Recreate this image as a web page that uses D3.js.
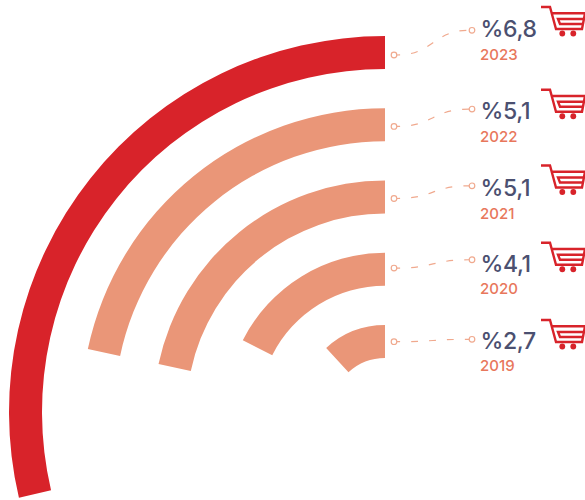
<!DOCTYPE html>
<html>
<head>
<meta charset="utf-8">
<script src="https://cdnjs.cloudflare.com/ajax/libs/d3/7.8.5/d3.min.js"></script>
<style>
  html, body { margin: 0; padding: 0; background: #fff; }
  svg { display: block; }
  text { font-family: "Inter", "Open Sans", sans-serif; }
</style>
</head>
<body>
<svg id="chart" width="585" height="500"></svg>
<script>
// Annual figures, innermost ring first
const years = ["2019", "2020", "2021", "2022", "2023"];
const values = [2.7, 4.1, 5.1, 5.1, 6.8];
const valueLabels = ["%2,7", "%4,1", "%5,1", "%5,1", "%6,8"];

// Annotation layout per row, measured from the top edge of the ring
const startOffset = [16.7, 15.3, 18, 18.2, 19];
const endOffset = [14.3, 7, 5.3, 0.8, -5.7];
const valueOffset = [24, 19.7, 15, 10.5, 0.7];
const yearOffset = [46.3, 41.2, 38.2, 34, 23.6];
const cartOffset = [-7, -12, -17, -20.5, -31];

const cx = 385, cy = 412;
const thickness = 33;
const highlightYear = "2023";
const red = "#d8232a", salmon = "#ea9678", ink = "#4b5070", yearInk = "#e8775c", leader = "#f0a98e";

const svg = d3.select("#chart");

// Sweep grows with the value, starting from twelve o'clock and running counter-clockwise
const toRad = Math.PI / 180;
const sweep = d3.scaleLinear().domain([0, 6.8]).range([-2.6 * toRad, -103.2 * toRad]);
const outerRadius = d3.scalePoint().domain(years).range([87, 376]);

const arc = d3.arc()
  .startAngle(0)
  .endAngle((d, i) => sweep(values[i]))
  .outerRadius(d => outerRadius(d))
  .innerRadius(d => outerRadius(d) - thickness);

svg.append("g")
  .attr("transform", `translate(${cx},${cy})`)
  .selectAll("path.ring")
  .data(years)
  .join("path")
  .attr("class", "ring")
  .attr("d", arc)
  .attr("fill", d => d === highlightYear ? red : salmon);

const linkPath = d3.linkHorizontal().x(p => p[0]).y(p => p[1]);
const x0 = 394, x1 = 472;

const rows = svg.selectAll("g.row")
  .data(years)
  .join("g")
  .attr("class", "row")
  .attr("transform", d => `translate(0,${cy - outerRadius(d)})`);

rows.append("path")
  .attr("fill", "none")
  .attr("stroke", leader)
  .attr("stroke-width", 1.2)
  .attr("stroke-dasharray", "7 11")
  .attr("stroke-dashoffset", 4)
  .attr("d", (d, i) => linkPath({ source: [x0 + 3, startOffset[i]], target: [x1 - 3, endOffset[i]] }));

rows.append("circle").attr("cx", x0).attr("cy", (d, i) => startOffset[i]).attr("r", 2.8)
  .attr("fill", "#fff").attr("stroke", leader).attr("stroke-width", 1.2);
rows.append("circle").attr("cx", x1).attr("cy", (d, i) => endOffset[i]).attr("r", 2.8)
  .attr("fill", "#fff").attr("stroke", leader).attr("stroke-width", 1.2);

rows.append("text")
  .attr("x", 480.5)
  .attr("y", (d, i) => valueOffset[i])
  .attr("font-size", 23)
  .attr("font-weight", 500)
  .attr("letter-spacing", -0.35)
  .attr("fill", ink)
  .text((d, i) => valueLabels[i]);

rows.append("text")
  .attr("x", 480)
  .attr("y", (d, i) => yearOffset[i])
  .attr("font-size", 15)
  .attr("font-weight", 500)
  .attr("fill", yearInk)
  .text(d => d);

// Shopping cart icon beside each row
const cart = rows.append("g")
  .attr("transform", (d, i) => `translate(540,${cartOffset[i]})`)
  .attr("fill", "none")
  .attr("stroke", red)
  .attr("stroke-width", 2.4);

cart.append("path").attr("d", "M1 2H10L16 24H42L45 8.3H12");
cart.append("path").attr("d", "M44 14H18L20 19H43");
cart.selectAll("circle")
  .data([22.3, 33.3])
  .join("circle")
  .attr("cx", d => d)
  .attr("cy", 28.5)
  .attr("r", 2.9)
  .attr("fill", red)
  .attr("stroke", "none");
</script>
</body>
</html>
